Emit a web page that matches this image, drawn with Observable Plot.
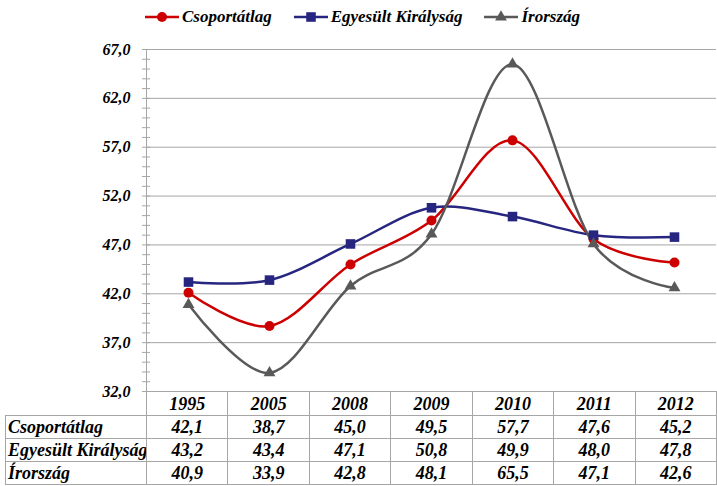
<!DOCTYPE html>
<html>
<head>
<meta charset="utf-8">
<script src="https://cdn.jsdelivr.net/npm/d3@7"></script>
<script src="https://cdn.jsdelivr.net/npm/@observablehq/plot@0.6"></script>
<style>
  body { margin: 0; background: #fff; }
  #wrap { position: relative; width: 717px; height: 486px; overflow: hidden; font-family: "Liberation Serif", "Times New Roman", serif; }
  #chart { position: absolute; top: 0; left: 0; }
  #legend { position: absolute; top: 7px; left: 0; width: 717px; display: flex; justify-content: center; gap: 22px; font-weight: bold; font-style: italic; font-size: 17px; padding-left: 8px; box-sizing: border-box; }
  #legend .item { display: flex; align-items: center; gap: 3px; }
  #tbl { position: absolute; top: 391px; left: 5px; border-collapse: collapse; table-layout: fixed; width: 712px; font-weight: bold; font-style: italic; font-size: 18px; }
  #tbl td { border: 1px solid #a6a6a6; padding: 0; text-align: center; height: 22px; line-height: 22px; white-space: nowrap; overflow: hidden; }
  #tbl td.lab { text-align: left; padding-left: 2px; }
  #tbl td.blank { border: none; border-right: 1px solid #a6a6a6; }
  #tbl tr.head td { height: 23px; }
</style>
</head>
<body>
<div id="wrap">
  <div id="chart"></div>
  <div id="legend"></div>
  <table id="tbl"></table>
</div>
<script>
const years = ["1995", "2005", "2008", "2009", "2010", "2011", "2012"];
const seriesNames = ["Csoportátlag", "Egyesült Királyság", "Írország"];
const csoportatlag = [42.1, 38.7, 45.0, 49.5, 57.7, 47.6, 45.2];
const egyesultKiralysag = [43.2, 43.4, 47.1, 50.8, 49.9, 48.0, 47.8];
const irorszag = [40.9, 33.9, 42.8, 48.1, 65.5, 47.1, 42.6];
const yTicks = [32, 37, 42, 47, 52, 57, 62, 67];
const seriesColors = ["#cc0000", "#262680", "#595959"];
const seriesSymbols = ["circle", "square", "triangle"];
const symbolRadii = [5, 5.4, 4.4];

const valuesBySeries = [csoportatlag, egyesultKiralysag, irorszag];
const data = seriesNames.flatMap((s, si) =>
  years.map((yr, i) => ({series: s, year: yr, value: valuesBySeries[si][i]})));
const fmt = v => v.toFixed(1).replace(".", ",");
const minorTicks = d3.range(32, 67.01, 1);

const chart = Plot.plot({
  width: 717,
  height: 486,
  marginTop: 49,
  marginBottom: 95,
  marginLeft: 146,
  marginRight: 1,
  style: {fontFamily: "'Liberation Serif', 'Times New Roman', serif", background: "transparent"},
  x: {type: "point", domain: years, padding: 0.5, axis: null},
  y: {domain: [32, 67], axis: null},
  color: {domain: seriesNames, range: seriesColors},
  symbol: {domain: seriesNames, range: seriesSymbols},
  marks: [
    Plot.gridY(yTicks, {stroke: "#a6a6a6", strokeOpacity: 1, strokeWidth: 1}),
    Plot.axisY(minorTicks, {label: null, tickSize: 8, dx: 4, tickFormat: () => "", stroke: "#a6a6a6"}),
    Plot.axisY(yTicks, {label: null, tickSize: 0, tickPadding: 16, tickFormat: fmt, fontSize: 16, fontWeight: "bold", fontStyle: "italic", fill: "#000"}),
    Plot.frame({anchor: "left", stroke: "#a6a6a6"}),
    Plot.line(data, {x: "year", y: "value", z: "series", stroke: "series", strokeWidth: 2.5, curve: d3.curveCatmullRom.alpha(0)}),
    ...seriesNames.map((s, si) =>
      Plot.dot(data.filter(d => d.series === s), {x: "year", y: "value", fill: "series", symbol: "series", stroke: "none", r: symbolRadii[si]}))
  ]
});
document.getElementById("chart").appendChild(chart);

// Legend
const legend = document.getElementById("legend");
seriesNames.forEach((s, i) => {
  const item = document.createElement("div");
  item.className = "item";
  const type = d3[{circle: "symbolCircle", square: "symbolSquare", triangle: "symbolTriangle"}[seriesSymbols[i]]];
  const sym = d3.symbol(type, Math.PI * symbolRadii[i] * symbolRadii[i])();
  item.innerHTML = `<svg width="34" height="14"><line x1="0" x2="34" y1="7" y2="7" stroke="${seriesColors[i]}" stroke-width="2.5"/><path d="${sym}" transform="translate(17,7)" fill="${seriesColors[i]}"/></svg><span>${s}</span>`;
  legend.appendChild(item);
});

// Data table
const tbl = document.getElementById("tbl");
const colgroup = document.createElement("colgroup");
colgroup.innerHTML = `<col style="width:141px">` + years.map(() => `<col style="width:81.43px">`).join("");
tbl.appendChild(colgroup);
const head = document.createElement("tr");
head.className = "head";
head.innerHTML = `<td class="blank"></td>` + years.map(y => `<td>${y}</td>`).join("");
tbl.appendChild(head);
seriesNames.forEach((s, si) => {
  const tr = document.createElement("tr");
  tr.innerHTML = `<td class="lab">${s}</td>` + valuesBySeries[si].map(v => `<td>${fmt(v)}</td>`).join("");
  tbl.appendChild(tr);
});
</script>
</body>
</html>
